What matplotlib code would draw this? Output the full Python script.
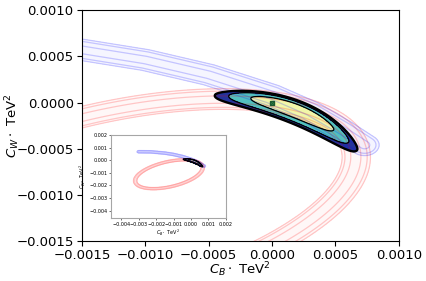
import numpy as np
import matplotlib
matplotlib.use("Agg")
import matplotlib.pyplot as plt
from matplotlib.ticker import MultipleLocator

# all shape values in units of 1e-3 TeV^-2
blue_path_x = [-3.0, -2.3, -1.5, -1.0, -0.5, 0.0, 0.3, 0.55, 0.73]
blue_path_y = [0.68, 0.67, 0.57, 0.46, 0.30, 0.08, -0.10, -0.30, -0.46]
blue_width = 0.041

# points on the middle of the red ring
red_ring_x = [-1.6, -1.5, -0.44, 0.66, 0.04]
red_ring_y = [-2.2, -0.165, 0.03, -0.6, -1.5]
red_width = 0.04

band_levels = [1.0, 4.8, 7.8]

fit_tips_x = [-0.43, 0.66]
fit_tips_y = [0.085, -0.50]
fit_bow = 0.15
fit_shift = 0.0
fit_length = 0.37
fit_width_top = 0.055
fit_width_bot = 0.085
fit_levels = [1.0, 2.1, 2.95]
fit_colors = ['#f1f7a9', '#52c0bf', '#24339a']

sm_point = [0.0, 0.0]


def polyline_dist(X, Y, px, py):
    d = np.full(X.shape, np.inf)
    for i in range(len(px) - 1):
        ax_, ay_ = px[i], py[i]
        bx, by = px[i + 1], py[i + 1]
        ex, ey = bx - ax_, by - ay_
        t = ((X - ax_) * ex + (Y - ay_) * ey) / (ex * ex + ey * ey)
        t = np.clip(t, 0, 1)
        d = np.minimum(d, np.hypot(X - ax_ - t * ex, Y - ay_ - t * ey))
    return d


def conic_dist(X, Y, px, py):
    # conic through the given points, distance to it to first order
    px, py = np.array(px), np.array(py)
    M = np.column_stack([px ** 2, px * py, py ** 2, px, py])
    a, b, c, dd, e = np.linalg.lstsq(M, np.ones(len(px)), rcond=None)[0]
    F = a * X ** 2 + b * X * Y + c * Y ** 2 + dd * X + e * Y - 1
    gx = 2 * a * X + b * Y + dd
    gy = b * X + 2 * c * Y + e
    return F / np.hypot(gx, gy)


xs = np.linspace(-4.8, 2.2, 1000)
ys = np.linspace(-4.8, 2.2, 1000)
X, Y = np.meshgrid(xs, ys)

chi_blue = (polyline_dist(X, Y, blue_path_x, blue_path_y) / blue_width) ** 2
chi_red = (conic_dist(X, Y, red_ring_x, red_ring_y) / red_width) ** 2

# banana shaped combined fit
x0 = (fit_tips_x[0] + fit_tips_x[1]) / 2
y0 = (fit_tips_y[0] + fit_tips_y[1]) / 2
th = np.arctan2(fit_tips_y[1] - fit_tips_y[0], fit_tips_x[1] - fit_tips_x[0])
half = np.hypot(fit_tips_x[1] - fit_tips_x[0], fit_tips_y[1] - fit_tips_y[0]) / 2
u = (X - x0) * np.cos(th) + (Y - y0) * np.sin(th)
v = -(X - x0) * np.sin(th) + (Y - y0) * np.cos(th)
d = v - fit_bow * (1 - (u / half) ** 2)
w = np.where(d > 0, fit_width_top, fit_width_bot)
chi_fit = (d / w) ** 2 + ((u - fit_shift) / fit_length) ** 2

Xs, Ys = X * 1e-3, Y * 1e-3


def draw(ax, lw_band, lw_fit):
    ax.contourf(Xs, Ys, chi_red, levels=[0, band_levels[-1]], colors=['red'], alpha=0.03)
    ax.contour(Xs, Ys, chi_red, levels=band_levels, colors=['red'], alpha=0.2, linewidths=lw_band)
    ax.contourf(Xs, Ys, chi_blue, levels=[0, band_levels[-1]], colors=['blue'], alpha=0.04)
    ax.contour(Xs, Ys, chi_blue, levels=band_levels, colors=['blue'], alpha=0.2, linewidths=lw_band)
    ax.contourf(Xs, Ys, chi_fit, levels=[0] + fit_levels, colors=fit_colors)
    ax.contour(Xs, Ys, chi_fit, levels=fit_levels, colors='k', linewidths=lw_fit)


fig = plt.figure(figsize=(4.27, 2.81), dpi=100)
ax = fig.add_axes([0.192, 0.142, 0.742, 0.822])
draw(ax, 0.9, [0.9, 0.9, 1.7])
ax.plot(sm_point[0], sm_point[1], 's', color='#3aa55a', markeredgecolor='#1d5a30', markersize=3.5, zorder=5)
ax.plot(sm_point[0], sm_point[1], 'x', color='#1d5a30', markersize=3, markeredgewidth=0.7, zorder=6)
ax.set_xlim(-0.0015, 0.001)
ax.set_ylim(-0.0015, 0.001)
ax.xaxis.set_major_locator(MultipleLocator(0.0005))
ax.yaxis.set_major_locator(MultipleLocator(0.0005))
ax.tick_params(labelsize=9.5, pad=2.5)
ax.set_xlabel(r'$C_B \cdot$ TeV$^2$', fontsize=9.5)
ax.set_ylabel(r'$C_W \cdot$ TeV$^2$', fontsize=9.5)
ax.xaxis.set_label_coords(0.5, -0.085)
ax.yaxis.set_label_coords(-0.19, 0.5)

ins = fig.add_axes([0.26, 0.224, 0.269, 0.295])
draw(ins, 0.6, [0.5, 0.5, 0.8])
ins.set_xlim(-0.0046, 0.002)
ins.set_ylim(-0.0046, 0.002)
ins.xaxis.set_major_locator(MultipleLocator(0.001))
ins.yaxis.set_major_locator(MultipleLocator(0.001))
ins.tick_params(labelsize=3.5, length=1.5, width=0.4, pad=1)
for s in ins.spines.values():
    s.set_color('0.65')
ins.set_xlabel(r'$C_B \cdot$ TeV$^2$', fontsize=3.5, labelpad=1)
ins.set_ylabel(r'$C_W \cdot$ TeV$^2$', fontsize=3.5, labelpad=1)

fig.savefig('out.png', dpi=100)
